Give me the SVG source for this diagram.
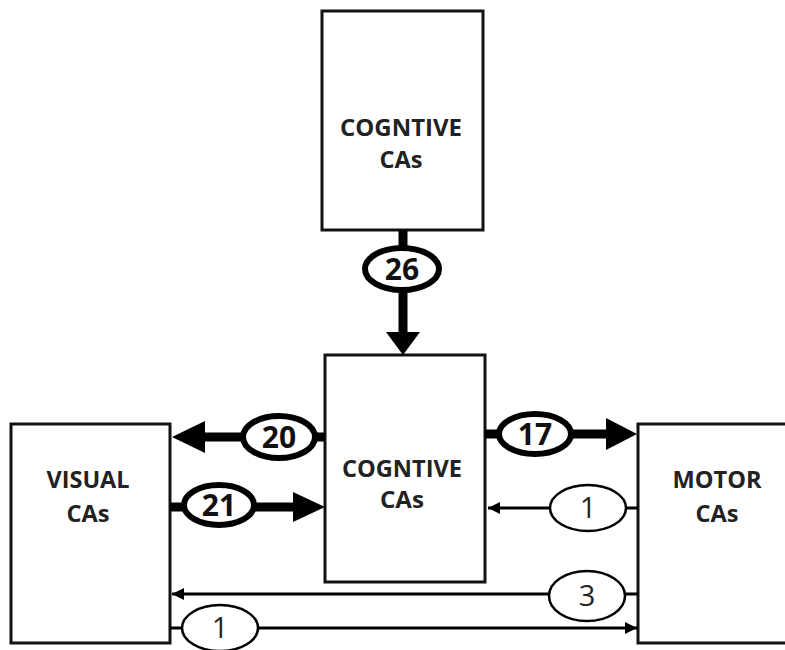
<svg xmlns="http://www.w3.org/2000/svg" width="785" height="650" viewBox="0 0 785 650">
<defs>
<style>
.box{fill:#fff;stroke:#111;stroke-width:3}
.lbl{font-family:"Open Sans","Liberation Sans",Arial,sans-serif;font-weight:bold;font-size:23px;fill:#222;text-anchor:middle}
.thick{stroke:#000;stroke-width:9;fill:none}
.thin{stroke:#000;stroke-width:3;fill:none}
.ovk{fill:#fff;stroke:#000;stroke-width:6}
.ovn{fill:#fff;stroke:#000;stroke-width:2.5}
.nb{font-family:"Open Sans","Liberation Sans",Arial,sans-serif;font-weight:bold;font-size:30px;fill:#111;text-anchor:middle}
.nr{font-family:"Open Sans","Liberation Sans",Arial,sans-serif;font-size:29px;fill:#222;text-anchor:middle}
.head{fill:#000}
</style>
<marker id="sm" viewBox="0 0 10 10" refX="10" refY="5" markerWidth="4" markerHeight="4" orient="auto" markerUnits="strokeWidth">
<path d="M0,0 L10,5 L0,10 z" fill="#000"/>
</marker>
</defs>
<g id="cog-top">
<rect class="box" x="322" y="11" width="161" height="219"/>
<text class="lbl" x="401" y="136" textLength="122" lengthAdjust="spacingAndGlyphs">COGNTIVE</text>
<text class="lbl" x="401" y="168" textLength="43" lengthAdjust="spacingAndGlyphs">CAs</text>
</g>
<g id="cog-mid">
<rect class="box" x="325" y="355" width="160" height="227"/>
<text class="lbl" x="402" y="477" textLength="120" lengthAdjust="spacingAndGlyphs">COGNTIVE</text>
<text class="lbl" x="402" y="508" textLength="44" lengthAdjust="spacingAndGlyphs">CAs</text>
</g>
<g id="visual">
<rect class="box" x="11" y="424" width="159" height="219"/>
<text class="lbl" x="88" y="488" textLength="83" lengthAdjust="spacingAndGlyphs">VISUAL</text>
<text class="lbl" x="88" y="522" textLength="43" lengthAdjust="spacingAndGlyphs">CAs</text>
</g>
<g id="motor">
<rect class="box" x="638" y="424" width="160" height="219"/>
<text class="lbl" x="717" y="488" textLength="89" lengthAdjust="spacingAndGlyphs">MOTOR</text>
<text class="lbl" x="717" y="522" textLength="43" lengthAdjust="spacingAndGlyphs">CAs</text>
</g>
<g id="connectors">
<!-- 26 -->
<line class="thick" x1="403" y1="230" x2="403" y2="333"/>
<polygon class="head" points="386,332 420,332 403,355"/>
<ellipse class="ovk" cx="402" cy="269" rx="37" ry="21"/>
<text class="nb" x="402" y="280">26</text>
<!-- 20 -->
<line class="thick" x1="325" y1="437" x2="204" y2="437"/>
<polygon class="head" points="205,421 205,453 172,437"/>
<ellipse class="ovk" cx="279" cy="437" rx="36" ry="21"/>
<text class="nb" x="279" y="448">20</text>
<!-- 21 -->
<line class="thick" x1="170" y1="507" x2="294" y2="507"/>
<polygon class="head" points="293,492 293,522 325,507"/>
<ellipse class="ovk" cx="219" cy="505" rx="35" ry="20"/>
<text class="nb" x="219" y="516">21</text>
<!-- 17 -->
<line class="thick" x1="485" y1="434" x2="608" y2="434"/>
<polygon class="head" points="606,418 606,450 637,434"/>
<ellipse class="ovk" cx="535" cy="434" rx="36" ry="20"/>
<text class="nb" x="535" y="445">17</text>
<!-- 1 right -->
<line class="thin" x1="638" y1="508" x2="488" y2="508" marker-end="url(#sm)"/>
<ellipse class="ovn" cx="588" cy="508" rx="38" ry="23"/>
<text class="nr" x="588" y="518">1</text>
<!-- 3 -->
<line class="thin" x1="638" y1="594" x2="172" y2="594" marker-end="url(#sm)"/>
<ellipse class="ovn" cx="587" cy="596" rx="38" ry="25"/>
<text class="nr" x="587" y="606">3</text>
<!-- 1 bottom -->
<line class="thin" x1="170" y1="628" x2="637" y2="628" marker-end="url(#sm)"/>
<ellipse class="ovn" cx="220" cy="628" rx="38" ry="23"/>
<text class="nr" x="220" y="638">1</text>
</g>
</svg>
